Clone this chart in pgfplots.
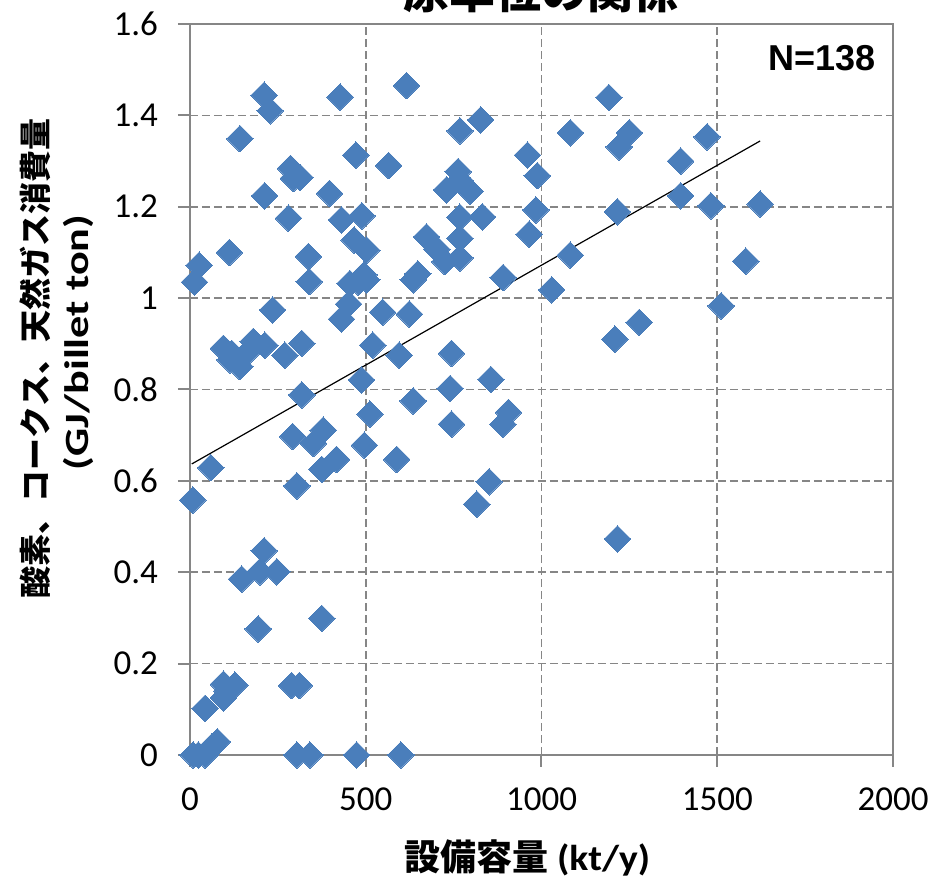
\documentclass[border=0pt]{standalone}
\usepackage{pgfplots}
\pgfplotsset{compat=1.18}
\usepackage{graphicx}
\usepackage{fontspec}
\setmainfont{Carlito}
\newfontfamily\cjk{Noto Sans CJK JP}
\newfontfamily\arial{Liberation Sans}
\definecolor{mk}{RGB}{74,126,187}
\definecolor{gr}{RGB}{134,134,134}
\pgfplotstableread{
x y
211 1.444
228 1.410
427 1.440
616 1.465
142 1.349
827 1.390
768 1.366
472 1.313
565 1.290
960 1.313
988 1.268
286 1.284
313 1.264
294 1.262
763 1.277
730 1.237
797 1.234
768 1.258
212 1.224
397 1.229
984 1.193
280 1.175
431 1.171
489 1.180
768 1.177
832 1.178
965 1.140
673 1.134
768 1.131
467 1.127
503 1.105
702 1.107
725 1.080
768 1.088
112 1.100
337 1.091
26 1.072
13 1.035
339 1.036
479 1.035
495 1.051
503 1.040
455 1.032
648 1.053
635 1.040
891 1.045
1029 1.018
235 0.974
451 0.987
431 0.954
548 0.969
624 0.965
95 0.890
119 0.879
142 0.850
180 0.905
213 0.897
166 0.883
270 0.875
318 0.901
114 0.865
520 0.897
595 0.875
744 0.879
488 0.821
740 0.802
856 0.822
318 0.788
635 0.775
1192 1.439
1082 1.362
1250 1.362
1221 1.331
1471 1.353
1396 1.300
1396 1.224
1482 1.202
1622 1.206
1216 1.189
1082 1.094
1581 1.081
1511 0.983
1278 0.947
1209 0.910
1216 0.473
512 0.746
744 0.724
890 0.724
906 0.750
292 0.697
351 0.682
379 0.711
375 0.625
417 0.647
496 0.678
588 0.647
59 0.629
304 0.589
8 0.558
851 0.598
816 0.549
211 0.447
199 0.401
247 0.401
147 0.385
194 0.276
375 0.299
95 0.155
128 0.153
95 0.125
105 0.140
289 0.152
311 0.152
43 0.102
78 0.029
62 0.018
43 0
9 0
24 0
304 0
341 0
474 0
600 0
}\datatable
\begin{document}
\begin{tikzpicture}
\begin{axis}[
  scale only axis, width=351.5pt, height=365.5pt,
  xmin=0, xmax=2000, ymin=0, ymax=1.6,
  xtick={0,500,1000,1500,2000},
  ytick={0,0.2,0.4,0.6,0.8,1,1.2,1.4,1.6},
  grid=major,
  major grid style={gr, dash pattern=on 4pt off 2pt, line width=0.8pt},
  axis line style={gr, line width=1pt},
  tick style={gr, line width=1pt},
  major tick length=6pt,
  tick align=outside, tick pos=left,
  ticklabel style={font=\fontsize{17.5}{20}\selectfont, text=black},
  yticklabel style={xshift=-6.5pt},
  xticklabel style={yshift=-7pt},
  /pgf/number format/assume math mode=true,
  /pgf/number format/set thousands separator={},
  clip=false,
]
\addplot[only marks, mark=square*, mark size=4.7pt,
  mark options={fill=mk, draw=mk, line width=0pt, rotate=45}] table[x=x,y=y] {\datatable};
\addplot[black, line width=0.6pt, no marks] coordinates {(5,0.637) (1622,1.344)};
\coordinate (ll) at (rel axis cs:0,0);
\coordinate (ur) at (rel axis cs:1,1);
\coordinate (lm) at (rel axis cs:0,0.5);
\coordinate (bm) at (rel axis cs:0.5,0);
\coordinate (tm) at (rel axis cs:0.5,1);
\coordinate (tr) at (rel axis cs:1,1);
\end{axis}
\node[anchor=north east, inner sep=0pt, font=\arial\bfseries\fontsize{18}{21}\selectfont] at ([xshift=-8.5pt,yshift=-10.5pt]tr) {N=138};
\node[rotate=90, inner sep=0pt, font=\cjk\bfseries\fontsize{16}{20}\selectfont] at ([xshift=-77.5pt,yshift=15.5pt]lm)
  {酸素、コークス、天然ガス消費量};
\node[rotate=90, inner sep=0pt, font=\bfseries\fontsize{17}{20}\selectfont] at ([xshift=-56pt,yshift=23.5pt]lm)
  {\scalebox{1.3}[1]{(GJ/billet ton)}};
\node[font=\bfseries\fontsize{18}{21}\selectfont] at ([xshift=-7pt,yshift=-51.5pt]bm)
  {{\cjk 設備容量} \scalebox{1.1}[1]{(kt/y)}};
\node[anchor=south, inner sep=0pt, font=\cjk\bfseries\fontsize{23}{26}\selectfont] at ([yshift=5.5pt]tm) {原単位の関係};
\pgfresetboundingbox
\path[use as bounding box] ([xshift=-95pt,yshift=-61.5pt]ll) rectangle ([xshift=20pt,yshift=12pt]ur);
\end{tikzpicture}
\end{document}
